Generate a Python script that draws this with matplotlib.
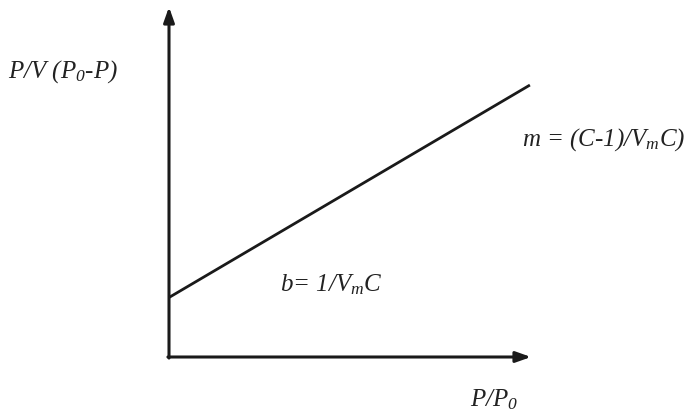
import matplotlib
matplotlib.use("Agg")
import matplotlib.pyplot as plt

plt.rcParams["mathtext.fontset"] = "custom"
plt.rcParams["mathtext.rm"] = "Liberation Serif:italic"
plt.rcParams["mathtext.it"] = "Liberation Serif:italic"

# BET plot: straight line through two end points (relative pressure, BET term)
rel_pressure = [0.0, 0.997]
bet_term = [0.17, 0.777]

y_label = r"P/V $(P_0$-$P)$"
x_label = r"$P/P_0$"
slope_label = r"m = (C-1)/$V_m$C)"
intercept_label = r"b= 1/$V_m$C"

W, H = 692, 413
fig = plt.figure(figsize=(W / 100, H / 100), dpi=100)

# axes placed so that the origin sits at the corner of the two arrows
x0, y0, x1, y1 = 169, 357, 531, 7
ax = fig.add_axes([x0 / W, (H - y0) / H, (x1 - x0) / W, (y0 - y1) / H])
ax.set_xlim(0, 1)
ax.set_ylim(0, 1)
ax.axis("off")

arrow = dict(arrowstyle="-|>,head_length=0.9,head_width=0.32", lw=2.2,
             color="#1a1a1a", shrinkA=0, shrinkB=0)
ax.annotate("", xy=(0, 1), xytext=(0, -0.003), arrowprops=arrow)
ax.annotate("", xy=(1, 0), xytext=(-0.003, 0), arrowprops=arrow)

ax.plot(rel_pressure, bet_term, color="#1a1a1a", lw=2.0, solid_capstyle="butt")

font = dict(family="Liberation Serif", style="italic", fontsize=18, color="#222222",
            va="center", ha="left")
fig.text(8 / W, (H - 72) / H, y_label, **font)
fig.text(522 / W, (H - 140) / H, slope_label, **font)
fig.text(280 / W, (H - 285) / H, intercept_label, **font)
fig.text(470 / W, (H - 400) / H, x_label, **font)

fig.savefig("out.png", dpi=100)
